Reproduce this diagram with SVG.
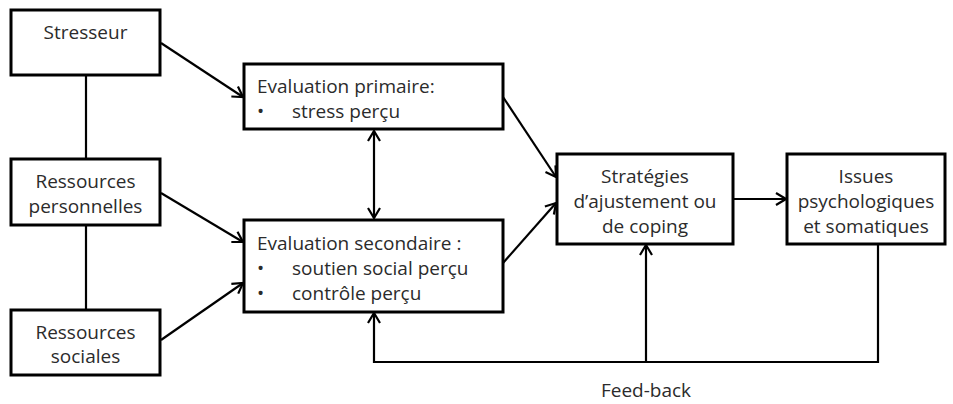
<svg xmlns="http://www.w3.org/2000/svg" width="953" height="404" viewBox="0 0 953 404">
  <style>
    .box { fill: #fff; stroke: #000; stroke-width: 3; }
    .lbl { font-family: "Open Sans", Lato, "Liberation Sans", sans-serif; font-size: 19px; fill: #2b2b2b; }
    .mid { text-anchor: middle; }
    .wire { fill: none; stroke: #000; stroke-width: 2.2; }
    .arr { fill: none; stroke: #000; stroke-width: 2.2; marker-end: url(#head); }
  </style>
  <defs>
    <marker id="head" viewBox="0 0 12 14" refX="11" refY="7" markerWidth="12" markerHeight="14" markerUnits="userSpaceOnUse" orient="auto-start-reverse">
      <path d="M1,1 L11,7 L1,13" fill="none" stroke="#000" stroke-width="2.2"/>
    </marker>
  </defs>

  <!-- connectors -->
  <g id="connectors">
    <line class="wire" x1="86" y1="75" x2="86" y2="159"/>
    <line class="wire" x1="86" y1="225" x2="86" y2="310"/>
    <line class="arr" x1="161" y1="43" x2="243" y2="97"/>
    <line class="arr" x1="161" y1="193" x2="243" y2="242"/>
    <line class="arr" x1="161" y1="340" x2="243" y2="283"/>
    <line class="arr" x1="374" y1="131" x2="374" y2="218" style="marker-start:url(#head)"/>
    <line class="arr" x1="503" y1="97" x2="556" y2="177"/>
    <line class="arr" x1="503" y1="263" x2="556" y2="203"/>
    <line class="arr" x1="733" y1="199" x2="786" y2="199"/>
    <polyline class="arr" points="878,244 878,362 374,362 374,313"/>
    <line class="arr" x1="646" y1="362" x2="646" y2="245"/>
    <text class="lbl mid" x="646" y="397">Feed-back</text>
  </g>

  <g id="stresseur">
    <rect class="box" x="11" y="10" width="149" height="65"/>
    <text class="lbl mid" x="85.5" y="39">Stresseur</text>
  </g>

  <g id="ressources-personnelles">
    <rect class="box" x="11" y="159" width="149" height="66"/>
    <text class="lbl mid" x="85.5" y="188">Ressources</text>
    <text class="lbl mid" x="85.5" y="213">personnelles</text>
  </g>

  <g id="ressources-sociales">
    <rect class="box" x="11" y="310" width="149" height="65"/>
    <text class="lbl mid" x="85.5" y="339">Ressources</text>
    <text class="lbl mid" x="85.5" y="363">sociales</text>
  </g>

  <g id="evaluation-primaire">
    <rect class="box" x="244" y="64" width="259" height="65"/>
    <text class="lbl" x="257" y="93">Evaluation primaire:</text>
    <text class="lbl" x="257" y="118">•</text>
    <text class="lbl" x="292" y="118">stress perçu</text>
  </g>

  <g id="evaluation-secondaire">
    <rect class="box" x="244" y="220" width="259" height="92"/>
    <text class="lbl" x="257" y="250">Evaluation secondaire :</text>
    <text class="lbl" x="257" y="275">•</text>
    <text class="lbl" x="292" y="275">soutien social perçu</text>
    <text class="lbl" x="257" y="300">•</text>
    <text class="lbl" x="292" y="300">contrôle perçu</text>
  </g>

  <g id="strategies">
    <rect class="box" x="557" y="154" width="176" height="90"/>
    <text class="lbl mid" x="645" y="183">Stratégies</text>
    <text class="lbl mid" x="645" y="208">d’ajustement ou</text>
    <text class="lbl mid" x="645" y="233">de coping</text>
  </g>

  <g id="issues">
    <rect class="box" x="787" y="154" width="158" height="90"/>
    <text class="lbl mid" x="866" y="183">Issues</text>
    <text class="lbl mid" x="866" y="208">psychologiques</text>
    <text class="lbl mid" x="866" y="233">et somatiques</text>
  </g>
</svg>
